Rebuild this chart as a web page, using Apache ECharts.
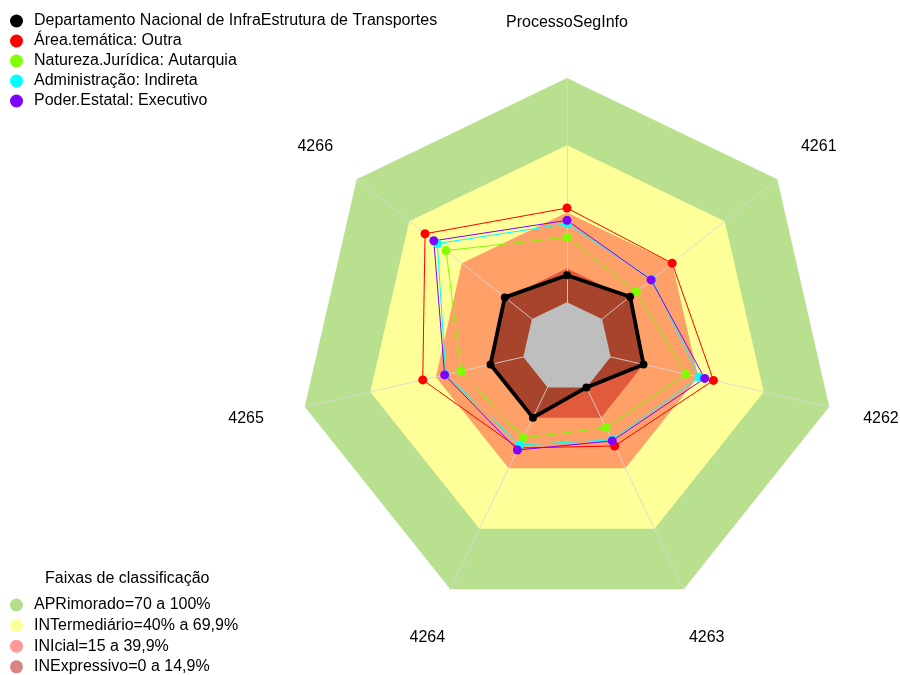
<!DOCTYPE html>
<html>
<head>
<meta charset="utf-8">
<script src="https://cdn.jsdelivr.net/npm/echarts@6/dist/echarts.min.js"></script>
<style>
  html, body { margin: 0; padding: 0; background: #ffffff; }
  #chart { width: 900px; height: 675px; }
</style>
</head>
<body>
<div id="chart"></div>
<script>
// Radar axes, listed clockwise starting from the top
const axisNames = ['ProcessoSegInfo', '4261', '4262', '4263', '4264', '4265', '4266'];

// Series shown in the upper legend
const seriesNames = [
  'Departamento Nacional de InfraEstrutura de Transportes',
  'Área.temática: Outra',
  'Natureza.Jurídica: Autarquia',
  'Administração: Indireta',
  'Poder.Estatal: Executivo'
];
const seriesColors = ['#000000', '#ff0000', '#80ff00', '#00ffff', '#8000ff'];

// Values (%) per axis, same order as axisNames
const deptValues     = [12, 16, 15, 0, 15, 15, 15.5];
const areaValues     = [42, 40, 47, 29, 30, 46, 61];
const naturezaValues = [29, 19.5, 34.5, 20, 25, 28.5, 49];
const adminValues    = [35, 28.5, 40.5, 26, 28.5, 35.5, 54];
const poderValues    = [36.5, 28, 43, 26.5, 31, 36, 56];
const allValues = [deptValues, areaValues, naturezaValues, adminValues, poderValues];

// Classification bands (outer limit of each band)
const bandNames = [
  'APRimorado=70 a 100%',
  'INTermediário=40% a 69,9%',
  'INIcial=15 a 39,9%',
  'INExpressivo=0 a 14,9%'
];
const bandLimits = [100, 70, 40, 15];
const bandFills = ['#b9e08e', '#ffff99', '#ffa069', '#e15a3b'];
const bandLegendColors = ['#b5dd8a', '#ffff99', '#ff9a9a', '#d98383'];

// Radial scale: the centre sits below zero so the 0% ring is a small heptagon
const scaleMin = -20;
const scaleMax = 100;

const FONT = '"Liberation Sans", Arial, sans-serif';
const FONT_SIZE = 16;

// ECharts places indicators counter-clockwise; reorder so they run clockwise
const ccw = v => [v[0]].concat(v.slice(1).reverse());
const constant = x => axisNames.map(() => x);

const series = [];

// Background bands
bandNames.forEach((name, i) => {
  series.push({
    type: 'radar', name: name, z: 1, silent: true,
    symbol: 'none',
    lineStyle: { width: 0, opacity: 0 },
    itemStyle: { color: bandLegendColors[i] },
    areaStyle: { color: bandFills[i], opacity: 1 },
    data: [{ name: name, value: ccw(constant(bandLimits[i])) }]
  });
});

// Shaded area under the department polygon
series.push({
  type: 'radar', name: 'Departamento (área)', z: 1, silent: true,
  symbol: 'none',
  lineStyle: { width: 0, opacity: 0 },
  areaStyle: { color: 'rgba(0,0,0,0.25)', opacity: 1 },
  data: [{ name: 'Departamento (área)', value: ccw(deptValues) }]
});

// Grey core below 0%
series.push({
  type: 'radar', name: 'núcleo', z: 3, silent: true,
  symbol: 'none',
  lineStyle: { width: 0, opacity: 0 },
  areaStyle: { color: '#bebebe', opacity: 1 },
  data: [{ name: 'núcleo', value: ccw(constant(0)) }]
});

// Data polygons
seriesNames.forEach((name, i) => {
  const isDept = i === 0;
  series.push({
    type: 'radar', name: name, z: isDept ? 5 : 4, silent: true,
    symbol: 'circle',
    symbolSize: isDept ? 8 : 9,
    lineStyle: { color: seriesColors[i], width: isDept ? 3.8 : 1, opacity: 1 },
    itemStyle: { color: seriesColors[i], borderWidth: 0 },
    data: [{ name: name, value: ccw(allValues[i]) }]
  });
});

const legendText = { fontSize: FONT_SIZE, color: '#000', fontFamily: FONT, lineHeight: 16 };
const nameText = { fontSize: FONT_SIZE, fontFamily: FONT, color: '#000' };

const chart = echarts.init(document.getElementById('chart'), null, { renderer: 'canvas' });
chart.setOption({
  animation: false,
  backgroundColor: '#ffffff',
  title: {
    text: 'Faixas de classificação',
    left: 45, top: 571, padding: 0,
    textStyle: { fontSize: FONT_SIZE, fontWeight: 'normal', color: '#000', fontFamily: FONT, lineHeight: 16 }
  },
  legend: [
    {
      orient: 'vertical', left: 10, top: 13, padding: 0,
      itemWidth: 25, itemHeight: 13, itemGap: 4,
      selectedMode: false,
      textStyle: legendText,
      data: seriesNames.map((n, i) => ({ name: n, icon: 'circle', itemStyle: { color: seriesColors[i], borderWidth: 0 } }))
    },
    {
      orient: 'vertical', left: 10, top: 597, padding: 0,
      itemWidth: 25, itemHeight: 13, itemGap: 4.6,
      selectedMode: false,
      textStyle: legendText,
      data: bandNames.map((n, i) => ({ name: n, icon: 'circle', itemStyle: { color: bandLegendColors[i], borderWidth: 0 } }))
    }
  ],
  radar: {
    center: [567, 347],
    radius: 269,
    startAngle: 90,
    shape: 'polygon',
    z: 2,
    nameGap: 53,
    axisName: {
      color: '#000', fontSize: FONT_SIZE, fontFamily: FONT,
      align: 'center', verticalAlign: 'middle',
      formatter: n => n === axisNames[0] ? '{top|' + n + '}' : (n === '4265' ? '{left|' + n + '}' : n),
      rich: {
        top: Object.assign({ padding: [0, 0, 4, 0] }, nameText),
        left: Object.assign({ padding: [0, 14, 0, 0] }, nameText)
      }
    },
    splitNumber: 6,
    splitLine: { show: false },
    splitArea: { show: false },
    axisLine: { show: true, lineStyle: { color: 'rgba(215,215,215,0.85)', width: 1 } },
    axisTick: { show: false },
    axisLabel: { show: false },
    indicator: ccw(axisNames).map(n => ({ name: n, min: scaleMin, max: scaleMax }))
  },
  series: series
});
</script>
</body>
</html>
